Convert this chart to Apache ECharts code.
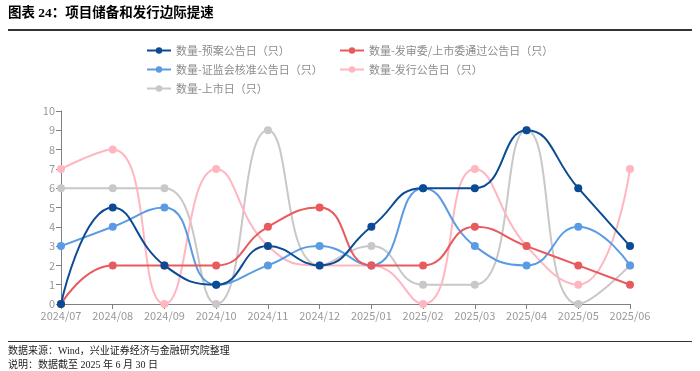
<!DOCTYPE html>
<html><head><meta charset="utf-8">
<script src="https://cdn.jsdelivr.net/npm/echarts@6/dist/echarts.min.js"></script>
<style>html,body{margin:0;padding:0;background:#fff}#c{width:700px;height:371px}</style>
</head><body><div id="c"></div>
<script>
const categories = ['2024/07','2024/08','2024/09','2024/10','2024/11','2024/12','2025/01','2025/02','2025/03','2025/04','2025/05','2025/06'];
const seriesNames = ['数量-预案公告日（只）','数量-发审委/上市委通过公告日（只）','数量-证监会核准公告日（只）','数量-发行公告日（只）','数量-上市日（只）'];
const yuAn = [0,5,2,1,3,2,4,6,6,9,6,3];
const faShen = [0,2,2,2,4,5,2,2,4,3,2,1];
const zhengJian = [3,4,5,1,2,3,2,6,3,2,4,2];
const faXing = [7,8,0,7,3,2,2,0,7,3,1,7];
const shangShi = [6,6,6,0,9,2,3,1,1,9,0,2];
const yTicks = [0,1,2,3,4,5,6,7,8,9,10];
const colors = ['#0B4A94','#E85A5E','#5B9BE3','#FFB6C1','#C8C8C8'];
const dataList = [yuAn, faShen, zhengJian, faXing, shangShi];

const chart = echarts.init(document.getElementById('c'));
const font = '"Noto Sans CJK SC", "Noto Sans", sans-serif';
const legendText = {color:'#8c8c8c', fontSize:11};
chart.setOption({
  animation:false,
  backgroundColor:'#fff',
  textStyle:{fontFamily:font},
  graphic:[
    {type:'text', left:8, top:7, style:{text:'图表 24：项目储备和发行边际提速', font:'bold 13.5px "Liberation Serif", "Noto Sans CJK SC", serif', fill:'#000'}},
    {type:'rect', shape:{x:8,y:29,width:684,height:2}, style:{fill:'#333'}},
    {type:'rect', shape:{x:8,y:341,width:684,height:1}, style:{fill:'#333'}},
    {type:'text', left:8, top:346, style:{text:'数据来源：Wind，兴业证券经济与金融研究院整理', font:'10px "Liberation Serif", "Noto Sans CJK SC", serif', fill:'#222'}},
    {type:'text', left:8, top:360, style:{text:'说明：数据截至 2025 年 6 月 30 日', font:'10px "Liberation Serif", "Noto Sans CJK SC", serif', fill:'#222'}}
  ],
  legend:[
    {data:[seriesNames[0],seriesNames[2],seriesNames[4]], orient:'vertical', left:141, top:40, itemGap:8, itemWidth:24, itemHeight:8, textStyle:legendText},
    {data:[seriesNames[1],seriesNames[3]], orient:'vertical', left:334, top:40, itemGap:8, itemWidth:24, itemHeight:8, textStyle:legendText}
  ],
  grid:{left:61, right:70, top:111, bottom:67, containLabel:false},
  xAxis:{type:'category', data:categories, boundaryGap:false,
    axisLine:{lineStyle:{color:'#808080'}}, axisTick:{show:true, interval:0, lineStyle:{color:'#808080'}},
    axisLabel:{color:'#999', fontSize:11, margin:6, interval:0}},
  yAxis:{type:'value', min:0, max:10, interval:1, splitLine:{show:false},
    axisLine:{show:true, lineStyle:{color:'#808080'}}, axisTick:{show:true, lineStyle:{color:'#808080'}},
    axisLabel:{color:'#999', fontSize:11, margin:6}},
  series: dataList.map((d,i)=>({
    name:seriesNames[i], type:'line', data:d, smooth:0.5, symbol:'circle', symbolSize:8,
    z: 10 - i,
    itemStyle:{color:colors[i]}, lineStyle:{color:colors[i], width:2}
  }))
});
</script></body></html>
